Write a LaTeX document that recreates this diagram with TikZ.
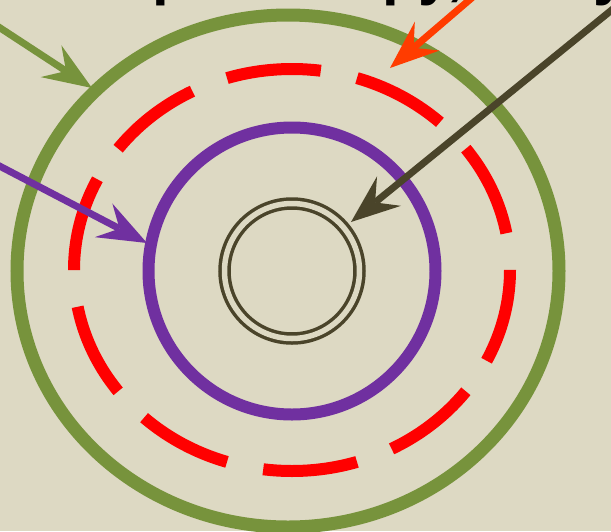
\documentclass[tikz,border=0pt]{standalone}
\usepackage{fontspec}
\setmainfont{Liberation Sans}
\usetikzlibrary{arrows.meta}
\definecolor{bgcol}{HTML}{DDD9C3}
\definecolor{ringgreen}{HTML}{77933C}
\definecolor{ringpurple}{HTML}{7030A0}
\definecolor{ringdark}{HTML}{4A442A}
\definecolor{ptrorange}{HTML}{FF3C00}

\begin{document}
\begin{tikzpicture}[
  x=1pt, y=-1pt,
  ring/.style={line width=12pt},
  ptr/.style={line width=7pt,
              -{Stealth[length=49pt, width=38pt, inset=18pt, line width=0pt]}},
  cut/.style={font=\fontsize{60}{60}\selectfont\bfseries, inner sep=0pt,
              anchor=base west, text=black},
]

%============================ FRAME ============================
\fill[bgcol] (0,0) rectangle (611,531);
\useasboundingbox (0,0) rectangle (611,531);
\clip (0,0) rectangle (611,531);

% title line, only its descenders reach into the frame
\node[cut] (wp)  at (152,-7) {p};
\node[cut] (wpy) at (382,-7) {py,};
\node[cut] (wy)  at (593,-7) {y};

%============================ RINGS ============================
\draw[ring, ringgreen, line width=13pt] (288,271) ellipse [x radius=271, y radius=256];
\draw[ring, red, dash pattern=on 94.7pt off 37pt] (292,270) ellipse [x radius=218, y radius=201];
\draw[ring, ringpurple] (292,271) circle [radius=143.5];
\draw[ringdark, line width=3.5pt, double=bgcol, double distance=5.5pt]
  (292,271) circle [radius=67.5];

%============================ POINTERS ============================
\coordinate (gtail) at (-12,20);
\coordinate (gtip)  at (92,88);
\coordinate (ptail) at (-12,160);
\coordinate (ptip)  at (147,243);
\coordinate (otail) at (481,-10);
\coordinate (otip)  at (390,68);
\coordinate (dtail) at (624,0);
\coordinate (dtip)  at (351,222);

\draw[ptr, ringgreen]  (gtail) -- (gtip);
\draw[ptr, ringpurple] (ptail) -- (ptip);
\draw[ptr, ptrorange]  (otail) -- (otip);
\draw[ptr, ringdark]   (dtail) -- (dtip);

\end{tikzpicture}
\end{document}
